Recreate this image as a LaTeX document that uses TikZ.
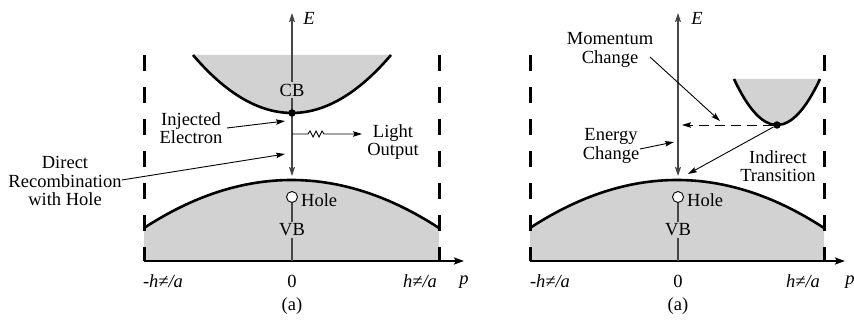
\documentclass[tikz,border=0pt]{standalone}
\usepackage{fontspec}
\setmainfont{Liberation Serif}
\usetikzlibrary{arrows.meta}
\definecolor{bandgray}{RGB}{210,210,210}
\definecolor{axisgray}{RGB}{70,70,70}
\begin{document}
\begin{tikzpicture}[x=1pt,y=-1pt,
  lbl/.style={font=\fontsize{18.5}{18.5}\selectfont, inner sep=0pt, align=center},
  tlbl/.style={font=\fontsize{18.5}{18.5}\selectfont\itshape, inner sep=0pt},
  curve/.style={line width=2.6pt, line join=round},
  bound/.style={line width=3pt, dash pattern=on 16pt off 16pt},
  baseax/.style={line width=2.6pt, -{Stealth[length=10pt,width=7pt,inset=2pt]}},
  axisline/.style={line width=1.3pt, draw=axisgray},
  arr/.style={line width=0.9pt, -{Stealth[length=9pt,width=5.5pt,inset=1.5pt]}},
  biarr/.style={line width=1.3pt, draw=axisgray, {Stealth[length=9pt,width=6pt,inset=1.5pt]}-{Stealth[length=9pt,width=6pt,inset=1.5pt]}},
  holec/.style={circle, draw, line width=0.9pt, fill=white, minimum size=11pt, inner sep=0pt},
  dotc/.style={circle, fill=black, minimum size=7.5pt, inner sep=0pt},
]
\useasboundingbox (0,0) rectangle (854,326);

% ================= LEFT PANEL =================
% VB band
\fill[bandgray] (144,261) -- (144,228)
  -- plot[domain=144:439,samples=80] (\x,{180+48*((\x-291.5)/147.5)^2})
  -- (439,261) -- cycle;
\draw[curve] plot[domain=144:439,samples=80] (\x,{180+48*((\x-291.5)/147.5)^2});
% CB band (exact parabola as cubic Bezier)
\fill[bandgray] (193,55) .. controls (259,132.3) and (325,132.3) .. (391,55) -- cycle;
\draw[curve] (193,55) .. controls (259,132.3) and (325,132.3) .. (391,55);
% zone boundaries
\draw[bound] (144,55) -- (144,261);
\draw[bound] (439,55) -- (439,261);
% coordinates
\coordinate (EtopL) at (292,13);
\coordinate (vbtopL) at (292,176);
\coordinate (zeroL) at (292,261);
\coordinate (leftL) at (144,261);
\coordinate (pendL) at (464,261);
% momentum axis
\draw[baseax] (leftL) -- (pendL);
% energy axis with recombination arrow
\draw[biarr] (vbtopL) -- (EtopL);
\node[lbl, font=\fontsize{18.5}{18.5}\selectfont\itshape] (EL) at (309,18) {E};
\node[lbl, fill=bandgray, inner sep=2pt] (CBL) at (292,90) {CB};
\node[dotc] (elecL) at (292,113) {};
% hole and VB
\node[holec] (holeL) at (292,197) {};
\draw[axisline] (holeL) -- (zeroL);
\node[lbl, fill=bandgray, inner sep=1.5pt] (VBL) at (292,230) {VB};
\node[lbl, anchor=west] (holetL) at (301,200) {Hole};
% labels and arrows
\node[lbl] (inj) at (191,128) {Injected\\Electron};
\coordinate (injend) at (285,121);
\draw[arr] (227,128) -- (injend);
\node[lbl] (direct) at (65,181) {Direct\\Recombination\\with Hole};
\coordinate (dirend) at (285,154);
\draw[arr] (direct.east |- 0,180) -- (dirend);
\node[lbl] (light) at (393,142) {Light\\Output};
\coordinate (lightstart) at (292,134);
\coordinate (lightend) at (362,134);
\draw[arr] (lightstart) -- ++(16,0) -- ++(2,-3) -- ++(3,6) -- ++(3,-6) -- ++(3,6) -- ++(3,-6) -- ++(2,3) -- (lightend);
% tick labels
\node[tlbl] (mL) at (163,281) {-h≠/a};
\node[lbl] (zL) at (292,281) {0};
\node[tlbl] (pL1) at (420,281) {h≠/a};
\node[tlbl] (pL) at (464,282) {p};
\node[lbl] (capL) at (292,306) {(a)};

% ================= RIGHT PANEL =================
\fill[bandgray] (530,261) -- (530,228)
  -- plot[domain=530:824,samples=80] (\x,{180+48*((\x-677)/147)^2})
  -- (824,261) -- cycle;
\draw[curve] plot[domain=530:824,samples=80] (\x,{180+48*((\x-677)/147)^2});
\fill[bandgray] (734,79) .. controls (762.7,140.3) and (791.3,140.3) .. (820,79) -- cycle;
\draw[curve] (734,79) .. controls (762.7,140.3) and (791.3,140.3) .. (820,79);
\draw[bound] (530,55) -- (530,261);
\draw[bound] (824,55) -- (824,261);
\coordinate (EtopR) at (678,13);
\coordinate (vbtopR) at (678,176);
\coordinate (zeroR) at (678,261);
\coordinate (leftR) at (530,261);
\coordinate (pendR) at (845,261);
\draw[baseax] (leftR) -- (pendR);
\draw[biarr] (vbtopR) -- (EtopR);
\node[lbl, font=\fontsize{18.5}{18.5}\selectfont\itshape] (ER) at (697,18) {E};
\node[dotc] (elecR) at (777,125) {};
\coordinate (momend) at (682,125);
\draw[arr, dash pattern=on 10pt off 6pt] (elecR) -- (momend);
\coordinate (indend) at (688,174);
\draw[arr] (elecR) -- (indend);
\node[holec] (holeR) at (678,197) {};
\draw[axisline] (holeR) -- (zeroR);
\node[lbl, fill=bandgray, inner sep=1.5pt] (VBR) at (678,230) {VB};
\node[lbl, anchor=west] (holetR) at (687,200) {Hole};
\node[lbl] (mom) at (610,50) {Momentum\\Change};
\coordinate (momarr) at (720,121);
\draw[arr] (650,57) -- (momarr);
\node[lbl] (ener) at (611,146) {Energy\\Change};
\coordinate (enerend) at (674,142);
\draw[arr] (640,149) -- (enerend);
\node[lbl] (indir) at (778,166) {Indirect\\Transition};
\node[tlbl] (mR) at (550,281) {-h≠/a};
\node[lbl] (zR) at (678,281) {0};
\node[tlbl] (pR1) at (803,281) {h≠/a};
\node[tlbl] (pR) at (850,282) {p};
\node[lbl] (capR) at (678,306) {(a)};
\end{tikzpicture}
\end{document}
